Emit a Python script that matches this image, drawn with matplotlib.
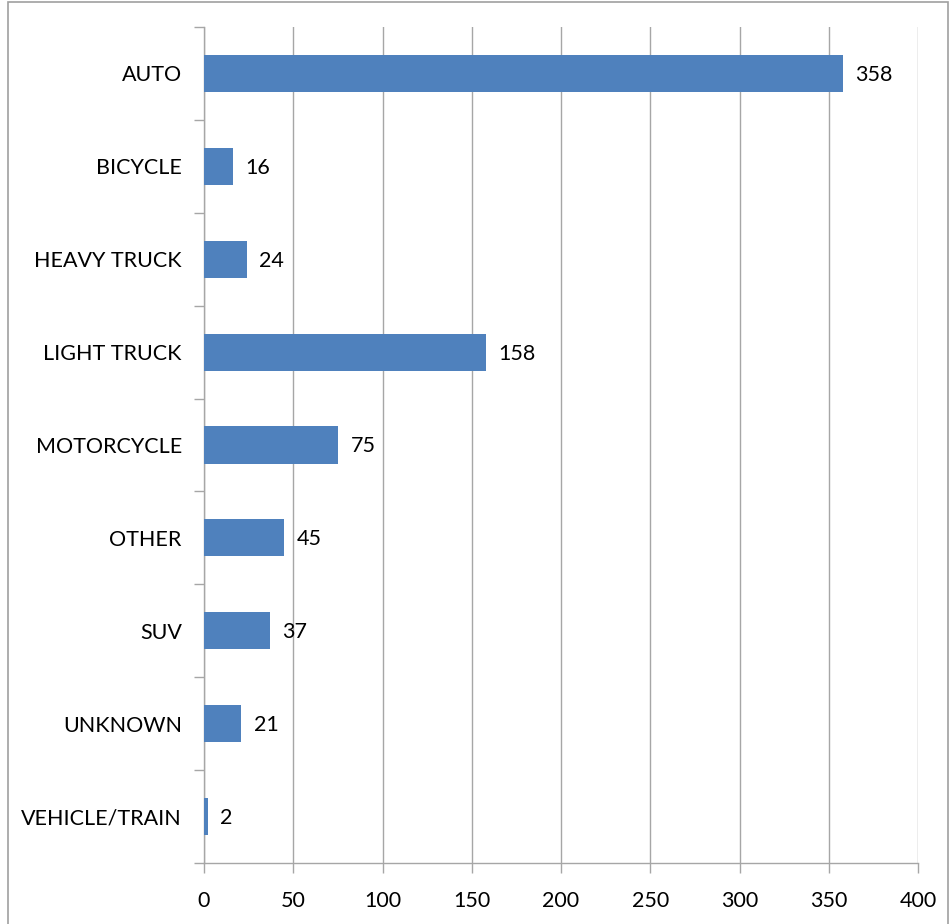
import matplotlib
matplotlib.use("Agg")
import matplotlib.pyplot as plt
from matplotlib.patches import Rectangle

# data
categories = ["AUTO", "BICYCLE", "HEAVY TRUCK", "LIGHT TRUCK", "MOTORCYCLE",
              "OTHER", "SUV", "UNKNOWN", "VEHICLE/TRAIN"]
counts = [358, 16, 24, 158, 75, 45, 37, 21, 2]
x_ticks = [0, 50, 100, 150, 200, 250, 300, 350, 400]

plt.rcParams["font.family"] = ["Lato", "DejaVu Sans"]
grey = "#a6a6a6"
fs = 15.5

fig = plt.figure(figsize=(9.5, 9.24), dpi=100)
ax = fig.add_axes([204 / 950, 61 / 924, 714 / 950, 836 / 924])

ypos = list(range(len(categories)))
ax.barh(ypos, counts, height=0.4, color="#4f81bd", zorder=3)
ax.set_ylim(len(categories) - 0.5, -0.5)
ax.set_xlim(0, 400)

# value labels
for y, v in zip(ypos, counts):
    ax.annotate(str(v), (v, y), xytext=(9, -1), textcoords="offset points",
                va="center", ha="left", fontsize=fs)

# y axis: labels centered, tick marks at category boundaries
ax.set_yticks(ypos)
ax.set_yticklabels(categories, fontsize=fs)
ax.tick_params(axis="y", which="major", length=0, pad=16)
ax.set_yticks([i - 0.5 for i in range(len(categories) + 1)], minor=True)
ax.tick_params(axis="y", which="minor", length=7, color=grey, width=1)

ax.set_xticks(x_ticks)
ax.tick_params(axis="x", which="major", length=7, color=grey, width=1,
               labelsize=fs, pad=13)
ax.grid(axis="x", color=grey, linewidth=1, zorder=0)

for s in ["top", "right"]:
    ax.spines[s].set_visible(False)
for s in ["left", "bottom"]:
    ax.spines[s].set_color(grey)
    ax.spines[s].set_linewidth(1)

# outer border
fig.patches.append(Rectangle((8 / 950, -0.01), 940 / 950, 1.0 - 2 / 924 + 0.01,
                             transform=fig.transFigure, fill=False,
                             edgecolor="#a0a0a0", linewidth=1.2))

fig.savefig("out.png", dpi=100)
